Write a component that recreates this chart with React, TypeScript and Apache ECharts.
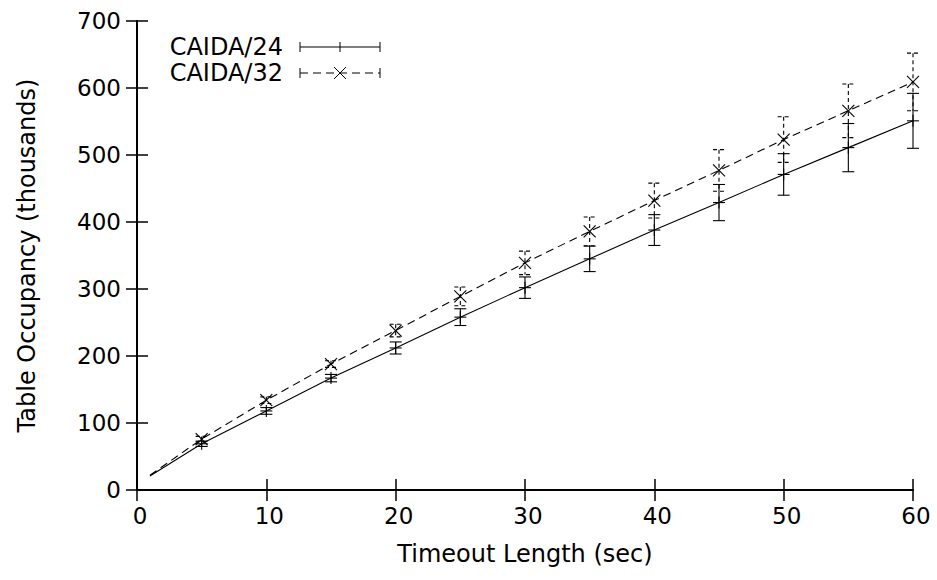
import React, { useEffect, useRef } from "react";
import * as echarts from "echarts";

// Line samples (continuous curve) and error-bar points
const lineX = [1, 5, 10, 15, 20, 25, 30, 35, 40, 45, 50, 55, 60];
const line24 = [21, 69, 118, 167, 212, 258, 302, 345, 388, 429, 471, 511, 551];
const line32 = [22, 76, 134, 188, 238, 289, 339, 386, 432, 477, 523, 566, 609];

const pointX = [5, 10, 15, 20, 25, 30, 35, 40, 45, 50, 55, 60];
const mean24 = [69, 118, 167, 212, 258, 302, 345, 388, 429, 471, 511, 551];
const err24 = [4, 5, 5.5, 9, 12.5, 16, 19, 23, 27, 31, 36, 41];
const mean32 = [76, 134, 188, 238, 289, 339, 386, 432, 477, 523, 566, 609];
const err32 = [4, 5, 5, 9.5, 14, 17.5, 21.5, 26, 31, 34, 40, 43];

const seriesNames = ["CAIDA/24", "CAIDA/32"];
const xTitle = "Timeout Length (sec)";
const yTitle = "Table Occupancy (thousands)";

const FONT = "DejaVu Sans";
const DASH = [8, 5];

function makeErrRender(dashed: boolean, marker: "plus" | "cross") {
  return (params: any, api: any) => {
    const x = api.value(0);
    const y = api.value(1);
    const e = api.value(2);
    const c = api.coord([x, y]);
    const top = api.coord([x, y + e])[1];
    const bot = api.coord([x, y - e])[1];
    const cx = c[0];
    const cy = c[1];
    const cap = 6;
    const ms = 6;
    const barStyle: any = { stroke: "#000", lineWidth: 1.1, fill: null };
    if (dashed) barStyle.lineDash = [4, 3];
    const mStyle: any = { stroke: "#000", lineWidth: 1.1, fill: null };
    const children: any[] = [
      { type: "line", shape: { x1: cx, y1: top, x2: cx, y2: bot }, style: barStyle },
      { type: "line", shape: { x1: cx - cap, y1: top, x2: cx + cap, y2: top }, style: barStyle },
      { type: "line", shape: { x1: cx - cap, y1: bot, x2: cx + cap, y2: bot }, style: barStyle },
    ];
    if (marker === "plus") {
      children.push(
        { type: "line", shape: { x1: cx - ms, y1: cy, x2: cx + ms, y2: cy }, style: mStyle },
        { type: "line", shape: { x1: cx, y1: cy - ms, x2: cx, y2: cy + ms }, style: mStyle }
      );
    } else {
      children.push(
        { type: "line", shape: { x1: cx - ms, y1: cy - ms, x2: cx + ms, y2: cy + ms }, style: mStyle },
        { type: "line", shape: { x1: cx - ms, y1: cy + ms, x2: cx + ms, y2: cy - ms }, style: mStyle }
      );
    }
    return { type: "group", children };
  };
}

export default function App() {
  const ref = useRef<HTMLDivElement>(null);

  useEffect(() => {
    if (!ref.current) return;
    const chart = echarts.init(ref.current, undefined, { renderer: "svg" });

    const axisLine = { show: true, lineStyle: { color: "#000", width: 2 } };
    const axisTick = { show: true, inside: true, length: 11, lineStyle: { color: "#000", width: 1.5 } };

    const legendY = [47, 73];
    const lx1 = 300;
    const lx2 = 380;
    const lxm = 340;
    const textX = 283;

    const legendGraphics: any[] = [];
    seriesNames.forEach((name, i) => {
      const y = legendY[i];
      const dashed = i === 1;
      const ls: any = { stroke: "#000", lineWidth: 1.1, fill: null };
      if (dashed) ls.lineDash = DASH;
      legendGraphics.push({
        type: "text",
        x: textX,
        y,
        style: {
          text: name,
          fill: "#000",
          font: `24px "${FONT}"`,
          align: "right",
          verticalAlign: "middle",
        },
      });
      legendGraphics.push({ type: "line", shape: { x1: lx1, y1: y, x2: lx2, y2: y }, style: ls });
      legendGraphics.push({ type: "line", shape: { x1: lx1, y1: y - 5, x2: lx1, y2: y + 5 }, style: { stroke: "#000", lineWidth: 1 } });
      legendGraphics.push({ type: "line", shape: { x1: lx2, y1: y - 5, x2: lx2, y2: y + 5 }, style: { stroke: "#000", lineWidth: 1 } });
      if (i === 0) {
        legendGraphics.push({ type: "line", shape: { x1: lxm, y1: y - 5, x2: lxm, y2: y + 5 }, style: { stroke: "#000", lineWidth: 1 } });
      } else {
        legendGraphics.push({ type: "line", shape: { x1: lxm - 6, y1: y - 6, x2: lxm + 6, y2: y + 6 }, style: { stroke: "#000", lineWidth: 1 } });
        legendGraphics.push({ type: "line", shape: { x1: lxm - 6, y1: y + 6, x2: lxm + 6, y2: y - 6 }, style: { stroke: "#000", lineWidth: 1 } });
      }
    });

    const option: any = {
      animation: false,
      backgroundColor: "#fff",
      textStyle: { fontFamily: FONT },
      grid: { left: 137, right: 24, top: 21, bottom: 90, containLabel: false },
      xAxis: [
        {
          type: "value",
          min: 0,
          max: 60,
          interval: 10,
          position: "bottom",
          name: xTitle,
          nameLocation: "middle",
          nameGap: 52,
          nameTextStyle: { fontSize: 24, color: "#000", fontFamily: FONT },
          axisLine,
          axisTick,
          splitLine: { show: false },
          axisLabel: { fontSize: 23, color: "#000", margin: 14, fontFamily: FONT, padding: [0, 0, 0, 6] },
        },
        {
          type: "value",
          min: 0,
          max: 60,
          interval: 10,
          position: "top",
          axisLine,
          axisTick,
          splitLine: { show: false },
          axisLabel: { show: false },
        },
      ],
      yAxis: [
        {
          type: "value",
          min: 0,
          max: 700,
          interval: 100,
          position: "left",
          name: yTitle,
          nameLocation: "middle",
          nameGap: 98,
          nameRotate: 90,
          nameTextStyle: { fontSize: 24, color: "#000", fontFamily: FONT },
          axisLine,
          axisTick,
          splitLine: { show: false },
          axisLabel: { fontSize: 23, color: "#000", margin: 16, fontFamily: FONT },
        },
        {
          type: "value",
          min: 0,
          max: 700,
          interval: 100,
          position: "right",
          axisLine,
          axisTick,
          splitLine: { show: false },
          axisLabel: { show: false },
        },
      ],
      series: [
        {
          name: seriesNames[0],
          type: "line",
          data: lineX.map((x, i) => [x, line24[i]]),
          showSymbol: false,
          symbol: "none",
          lineStyle: { color: "#000", width: 1.1, type: "solid" },
          z: 2,
        },
        {
          name: seriesNames[1],
          type: "line",
          data: lineX.map((x, i) => [x, line32[i]]),
          showSymbol: false,
          symbol: "none",
          lineStyle: { color: "#000", width: 1.1, type: DASH },
          z: 2,
        },
        {
          name: seriesNames[0] + " error",
          type: "custom",
          data: pointX.map((x, i) => [x, mean24[i], err24[i]]),
          renderItem: makeErrRender(false, "plus"),
          encode: { x: 0, y: 1 },
          clip: false,
          z: 3,
        },
        {
          name: seriesNames[1] + " error",
          type: "custom",
          data: pointX.map((x, i) => [x, mean32[i], err32[i]]),
          renderItem: makeErrRender(true, "cross"),
          encode: { x: 0, y: 1 },
          clip: false,
          z: 3,
        },
      ],
      graphic: legendGraphics,
    };

    chart.setOption(option);
    return () => chart.dispose();
  }, []);

  return (
    <div
      ref={ref}
      style={{ position: "fixed", left: 0, top: 0, width: 937, height: 580, background: "#fff" }}
    />
  );
}
